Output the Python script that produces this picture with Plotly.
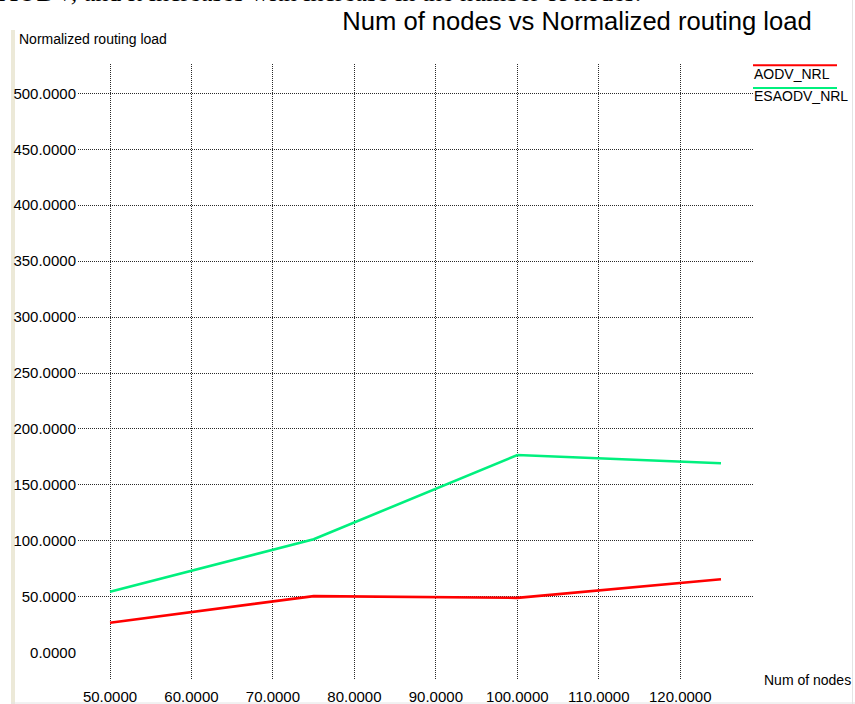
import plotly.graph_objects as go

# ---------------- data ----------------
nodes = [50, 75, 100, 125]
aodv_nrl = [26.8, 50.6, 49.0, 65.6]
esaodv_nrl = [54.5, 101.4, 176.7, 169.3]
series_names = ["AODV_NRL", "ESAODV_NRL"]
series_colors = ["#FF0000", "#00F07E"]

x_ticks = [50, 60, 70, 80, 90, 100, 110, 120]
y_ticks = [0, 50, 100, 150, 200, 250, 300, 350, 400, 450, 500]
y_grid = y_ticks[1:]

title_text = "Num of nodes vs Normalized routing load"
x_title = "Num of nodes"
y_title = "Normalized routing load"
caption_text = "AODV, and it increases with increase in the number of nodes."

# ---------------- geometry ----------------
W, H = 855, 704
L, R, T, B = 78, 753, 64, 680          # plot area in pixels
XR = [46.07, 128.93]
YR = [-24.4, 526.2]

SANS = "Liberation Sans, Arial, Helvetica, sans-serif"
SERIF = "Liberation Serif, Times New Roman, serif"


def px_x(p):
    return (p - L) / (R - L)


def px_y(p):
    return (B - p) / (B - T)


fig = go.Figure()
for name, vals, col in zip(series_names, [aodv_nrl, esaodv_nrl], series_colors):
    fig.add_trace(go.Scatter(x=nodes, y=vals, mode="lines", name=name,
                             line=dict(color=col, width=2.6), showlegend=False))

# invisible trace to anchor the grid-only axis
fig.add_trace(go.Scatter(x=[nodes[0]], y=[y_grid[0]], yaxis="y2", mode="markers",
                         marker=dict(opacity=0), showlegend=False, hoverinfo="skip"))

grid_style = dict(showgrid=True, gridcolor="#2a2a2a", gridwidth=1, griddash="1px,1px")

fig.update_layout(
    width=W, height=H,
    margin=dict(l=L, r=W - R, t=T, b=H - B, pad=0, autoexpand=False),
    paper_bgcolor="white", plot_bgcolor="white",
    showlegend=False,
    title=dict(text=title_text, x=577 / W, xanchor="center", xref="container",
               y=1 - 21 / H, yanchor="middle", yref="container",
               font=dict(family=SANS, size=25.6, color="black")),
    xaxis=dict(range=XR, tickvals=x_ticks, tickformat=".4f", ticks="",
               showline=False, zeroline=False, automargin=False,
               tickfont=dict(family=SANS, size=15, color="black"),
               ticklabelstandoff=6, **grid_style),
    yaxis=dict(range=YR, tickvals=y_ticks, tickformat=".4f", ticks="",
               showline=False, zeroline=False, showgrid=False, automargin=False,
               tickfont=dict(family=SANS, size=15, color="black"),
               ticklabelstandoff=1),
    yaxis2=dict(range=YR, overlaying="y", tickvals=y_grid, showticklabels=False,
                ticks="", showline=False, zeroline=False, side="left",
                automargin=False, **grid_style),
)

shapes = [
    # left window bar
    dict(type="rect", xref="paper", yref="paper", x0=px_x(11), x1=px_x(15),
         y0=px_y(706), y1=px_y(30), fillcolor="#ECE9D8", line=dict(width=0), layer="below"),
    # faint right and bottom borders
    dict(type="line", xref="paper", yref="paper", x0=px_x(852.5), x1=px_x(852.5),
         y0=px_y(706), y1=px_y(0), line=dict(color="#E4E4E4", width=1)),
    dict(type="line", xref="paper", yref="paper", x0=px_x(11), x1=px_x(856),
         y0=px_y(703), y1=px_y(703), line=dict(color="#E4E4E4", width=1)),
]
annotations = [
    dict(text=y_title, xref="paper", yref="paper", x=px_x(17), y=px_y(39),
         xanchor="left", yanchor="middle", showarrow=False,
         font=dict(family=SANS, size=14, color="black")),
    dict(text=x_title, xref="paper", yref="paper", x=px_x(762), y=px_y(680),
         xanchor="left", yanchor="middle", showarrow=False,
         font=dict(family=SANS, size=14, color="black")),
    dict(text=caption_text, xref="paper", yref="paper", x=px_x(-3), y=px_y(-8),
         xanchor="left", yanchor="middle", showarrow=False,
         font=dict(family=SERIF, size=26, color="black")),
]

# custom legend: line above text
leg_line_y = [65.3, 88]
leg_text_y = [73.5, 96]
for name, col, ly, ty in zip(series_names, series_colors, leg_line_y, leg_text_y):
    shapes.append(dict(type="line", xref="paper", yref="paper", x0=px_x(753), x1=px_x(837),
                       y0=px_y(ly), y1=px_y(ly), line=dict(color=col, width=2)))
    annotations.append(dict(text=name, xref="paper", yref="paper", x=px_x(752), y=px_y(ty),
                            xanchor="left", yanchor="middle", showarrow=False,
                            font=dict(family=SANS, size=14, color="black")))

fig.update_layout(shapes=shapes, annotations=annotations)
fig.write_html("out.html", config={"displayModeBar": False},
               post_script="document.body.style.margin='0px';")
